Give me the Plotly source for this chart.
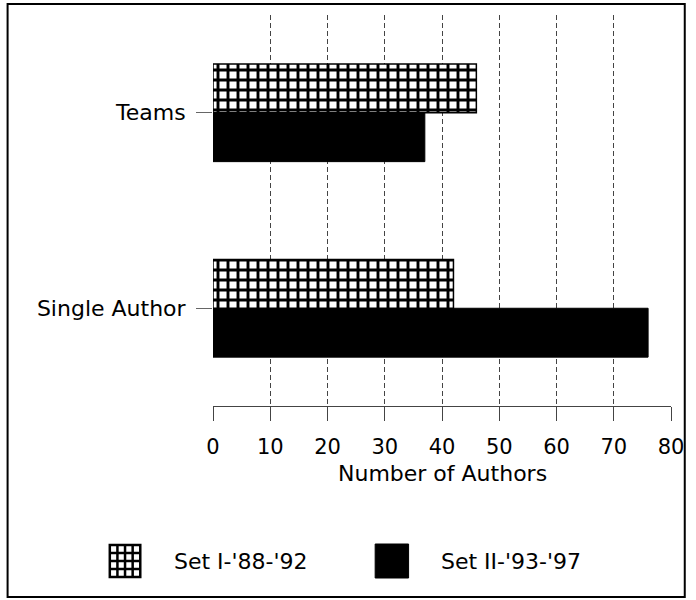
import plotly.graph_objects as go

# Categories listed bottom-to-top along the y axis
categories = ["Single Author", "Teams"]
set1_values = [42, 46]   # Set I-'88-'92
set2_values = [76, 37]   # Set II-'93-'97
series_names = ["Set I-'88-'92", "Set II-'93-'97"]
x_ticks = [0, 10, 20, 30, 40, 50, 60, 70, 80]

W, H = 696, 600
L, R, T, B = 213, 17, 15, 194
PW, PH = W - L - R, H - T - B
FONT = "DejaVu Sans"


def px(x):
    return (x - L) / PW


def py(y):
    return (H - B - y) / PH


fig = go.Figure()
# Second series first so that it sits in the lower half of each group
fig.add_trace(go.Bar(
    y=categories, x=set2_values, orientation="h", name=series_names[1],
    marker=dict(color="black", line=dict(color="black", width=1)),
    showlegend=False,
))
fig.add_trace(go.Bar(
    y=categories, x=set1_values, orientation="h", name=series_names[0],
    marker=dict(
        color="white",
        line=dict(color="black", width=1.5),
        pattern=dict(shape="+", fgcolor="black", bgcolor="white",
                     size=10, solidity=0.5, fillmode="replace"),
    ),
    showlegend=False,
))

fig.update_layout(
    width=W, height=H,
    margin=dict(l=L, r=R, t=T, b=B),
    paper_bgcolor="white", plot_bgcolor="white",
    barmode="group", bargap=0.5, bargroupgap=0,
    font=dict(family=FONT, size=22, color="black"),
)
fig.update_xaxes(
    range=[0, 80], tickvals=x_ticks, ticktext=[str(v) for v in x_ticks],
    showgrid=True, gridcolor="#444", griddash="5px,3px", gridwidth=1,
    zeroline=False, showline=True, linecolor="#444", linewidth=1,
    ticks="outside", ticklen=14, tickcolor="#444", tickwidth=1,
    ticklabelstandoff=8,
    tickfont=dict(family=FONT, size=21),
)
fig.update_yaxes(
    type="category", categoryorder="array", categoryarray=categories,
    showgrid=False, zeroline=False, showline=False,
    ticks="outside", ticklen=16, tickcolor="#666", tickwidth=1,
    ticklabelstandoff=6,
    tickfont=dict(family=FONT, size=22),
)

# Axis title
fig.add_annotation(
    text="Number of Authors", xref="paper", yref="paper",
    x=px(447), y=py(473), xanchor="center", yanchor="middle",
    showarrow=False, font=dict(family=FONT, size=22),
)

shapes = []
# Outer frame
shapes.append(dict(type="rect", xref="paper", yref="paper",
                   x0=px(4), x1=px(693), y0=py(4), y1=py(597),
                   line=dict(color="black", width=2), fillcolor="rgba(0,0,0,0)"))

# Legend key: checkered grid for the first series
gx0, gx1, gy0, gy1 = 108, 139, 545, 577
shapes.append(dict(type="rect", xref="paper", yref="paper",
                   x0=px(gx0), x1=px(gx1), y0=py(gy0), y1=py(gy1),
                   line=dict(color="black", width=2.5), fillcolor="white"))
for k in range(1, 4):
    xx = gx0 + k * (gx1 - gx0) / 4
    yy = gy0 + k * (gy1 - gy0) / 4
    shapes.append(dict(type="line", xref="paper", yref="paper",
                       x0=px(xx), x1=px(xx), y0=py(gy0), y1=py(gy1),
                       line=dict(color="black", width=2.5)))
    shapes.append(dict(type="line", xref="paper", yref="paper",
                       x0=px(gx0), x1=px(gx1), y0=py(yy), y1=py(yy),
                       line=dict(color="black", width=2.5)))
# Legend key: solid square for the second series
shapes.append(dict(type="rect", xref="paper", yref="paper",
                   x0=px(378), x1=px(412), y0=py(544), y1=py(578),
                   line=dict(color="black", width=1), fillcolor="black"))
fig.update_layout(shapes=shapes)

for name, xpos in zip(series_names, [171, 443]):
    fig.add_annotation(
        text=name, xref="paper", yref="paper", x=px(xpos), y=py(561),
        xanchor="left", yanchor="middle", showarrow=False,
        font=dict(family=FONT, size=22),
    )

fig.write_html("out.html")
